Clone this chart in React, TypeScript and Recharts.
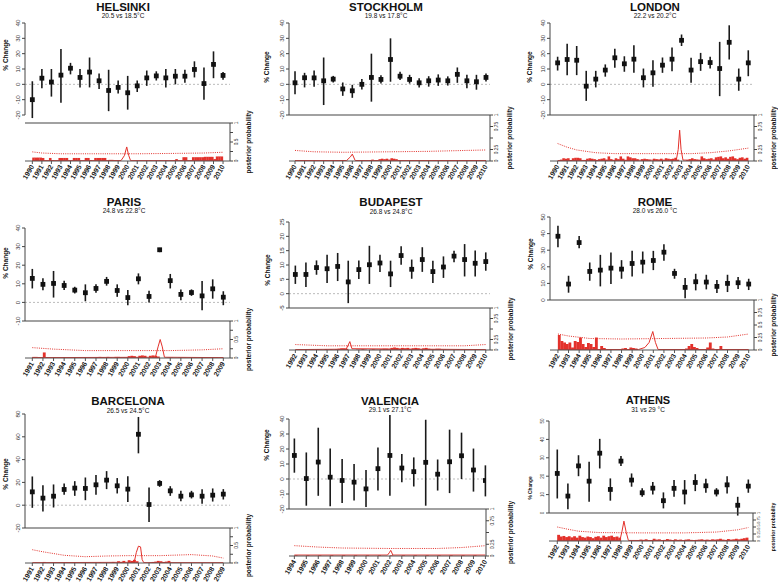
import React from 'react';
import { ComposedChart, Scatter, ErrorBar, Bar, Line, XAxis, YAxis, ReferenceLine } from 'recharts';

const RED = '#e3312b';
const FONT = '"Liberation Sans", Arial, Helvetica, sans-serif';

// year axes
const years90 = [1990, 1991, 1992, 1993, 1994, 1995, 1996, 1997, 1998, 1999, 2000, 2001, 2002, 2003, 2004, 2005, 2006, 2007, 2008, 2009, 2010];
const years91 = [1991, 1992, 1993, 1994, 1995, 1996, 1997, 1998, 1999, 2000, 2001, 2002, 2003, 2004, 2005, 2006, 2007, 2008, 2009];
const years92 = [1992, 1993, 1994, 1995, 1996, 1997, 1998, 1999, 2000, 2001, 2002, 2003, 2004, 2005, 2006, 2007, 2008, 2009, 2010];
const years94 = [1994, 1995, 1996, 1997, 1998, 1999, 2000, 2001, 2002, 2003, 2004, 2005, 2006, 2007, 2008, 2009, 2010];

// HELSINKI
const helsinkiMean = [-10, 4, 1.5, 6, 10.5, 4.5, 8, 2.3, -4, -2, -5.5, -1, 4.2, 5.5, 4.2, 5.3, 5.3, 9.7, 0.5, 13, 5.8];
const helsinkiLow = [-22, -2.5, -8, -12, 6.5, -2, -2, -3, -17.5, -6, -16.5, -5, -1, 2.5, -2, 0, 1, 4.5, -10, 4, 3];
const helsinkiHigh = [2, 10, 10, 23, 14, 10, 17.5, 7, 9.5, 2.5, 5.5, 2.5, 9, 8.5, 10, 10, 9.5, 15, 11, 21.5, 8];
const helsinkiPost = [
  [.09, .09, .09, .09], [.08, 0, 0, .08], [.02, 0, 0, .08], [.08, .08, .08, 0], [0, .08, .08, .08],
  [0, 0, .08, .08], [.02, 0, .08, .08], [.08, .08, .08, 0], [.03, .03, .02, .02], [.02, 0, 0, 0],
  [0, 0, 0, 0], [0, 0, 0, 0], [0, .01, 0, 0], [0, .01, 0, 0], [0, 0, 0, .01],
  [.05, 0, 0, .1], [.1, 0, 0, .1], [.1, .1, .1, .1], [.11, .11, .11, .11], [.05, .12, .12, .12],
];
const helsinkiPeak = [[1990, .01], [1999.3, .01], [1999.65, .14], [1999.9, .37], [2000.1, .15], [2000.3, .01], [2010, .01]];
const helsinkiThr = [[1990, .24], [1991, .21], [1993, .19], [1997, .19], [2001, .19], [2005, .2], [2008, .21], [2010, .23]];

// STOCKHOLM
const stockholmMean = [1, 4.3, 4.2, 2.3, 3.4, -3, -4.2, 0, 4.5, 3.2, 16.2, 5.3, 3.2, 1, 2.3, 2.8, 2.3, 6.5, 2.3, 1.7, 4.5];
const stockholmLow = [-6.5, -2, -1.5, -13.5, 1.2, -7.5, -8.8, -3.4, -11.3, 0.6, 1.7, 2.8, 0.5, -2, -1.5, -1, -0.8, 1, -2.5, -3.5, 1.8];
const stockholmHigh = [8.5, 7.5, 9, 17.5, 5.5, 1.2, -0.3, 3.4, 20, 6, 30, 8.2, 6.2, 4, 5.3, 6.5, 5.2, 11, 6.2, 6.2, 7];
const stockholmPost = [
  [.01, .02, .01, 0], [.01, 0, .01, 0], [.01, .01, 0, 0], [.01, 0, 0, 0], [.01, .02, .02, .01],
  [.02, .01, 0, 0], [0, 0, 0, 0], [0, 0, 0, .02], [.03, .01, .02, .04], [.05, .04, .05, .03],
  [.06, .05, .04, .02], [.02, .01, 0, .01], [.01, .01, 0, .01], [.01, .01, 0, .01], [.01, 0, .02, .01],
  [.01, .02, .01, .01], [.01, .01, .02, .01], [.01, .01, .02, .01], [.01, .01, .01, .01], [.01, .01, .01, .01],
];
const stockholmPeak = [[1990, .01], [1995.4, .01], [1995.8, .09], [1996, .15], [1996.3, .01], [2010, .01]];
const stockholmThr = [[1990, .23], [1992, .2], [1995, .19], [2000, .2], [2004, .21], [2008, .23], [2010, .24]];

// LONDON
const londonMean = [14, 16.2, 15.7, -1.2, 3.4, 9.3, 17.3, 13.4, 16.4, 4.3, 7.5, 12.5, 16.4, 28.7, 9.3, 14.8, 14.2, 10.3, 27.4, 3.4, 14];
const londonLow = [9, 6, 6, -10.8, -2, 5, 10.8, 8.2, 7.5, -2, -1.6, 7.5, 8.6, 25, 1, 8.8, 10.3, -7.7, 16.2, -4.2, 5.3];
const londonHigh = [18, 26.5, 25, 8.8, 8.8, 13, 23.2, 18.3, 25.5, 10.3, 15.7, 17.5, 24, 32.5, 17.3, 20.5, 18, 27.7, 38.5, 10.3, 22.2];
const londonPost = [
  [0, .03, .06, .05], [.06, .02, .06, .07], [.07, .06, 0, .02], [.05, .06, .05, .04], [.02, .04, .05, .06],
  [.03, .1, .04, .02], [.06, .04, .1, .05], [.02, .1, .08, .06], [.06, .04, 0, .04], [.05, .04, .03, 0],
  [.05, .04, .03, .05], [.02, .06, .05, .04], [.05, .07, .03, 0], [0, 0, .02, .04], [.06, .04, .03, .02],
  [.1, .06, .04, .05], [.06, .03, .08, .09], [.1, .06, .08, .05], [.09, .1, .06, .04], [.07, .08, .05, .07],
];
const londonPeak = [[1990, .01], [2002.45, .02], [2002.65, .25], [2002.8, .67], [2002.95, .25], [2003.15, .02], [2010, .01]];
const londonThr = [[1990, .38], [1991, .3], [1992, .24], [1994, .18], [1996, .16], [2000, .16], [2004, .16], [2006, .18], [2008, .22], [2010, .28]];

// PARIS
const parisMean = [12.9, 9.7, 10.2, 9.1, 6.6, 5.2, 7.5, 11.3, 6.4, 2.6, 12.7, 3.2, 28.3, 11.7, 4.3, 5.3, 3.5, 7.3, 2.8];
const parisLow = [7.5, 6.5, 2.6, 6.6, 4.8, 0.6, 5.2, 9, 3, -1.5, 9.7, 0, 27, 7.5, 1.2, 3.5, -4.2, 2, -1.5];
const parisHigh = [18, 13, 16.9, 11.7, 8.4, 9.7, 9.7, 13.7, 9.7, 6.6, 15.6, 6.2, 29.3, 15.3, 7, 7, 11.5, 12.4, 6];
const parisPost = [
  [.03, .03, .02, .01], [.15, .02, 0, 0], [.02, .01, 0, .01], [.02, .02, .01, 0], [.02, .02, .01, .01],
  [.01, .01, 0, 0], [.02, .03, .02, .01], [.03, .01, 0, .03], [.03, .02, .02, .02], [.05, .06, .05, .01],
  [.06, .07, .06, 0], [.06, .07, .06, .04], [0, 0, 0, .01], [.01, 0, 0, .01], [.01, .01, 0, 0],
  [.01, .02, .01, .01], [.02, .01, 0, .01], [.02, .02, .01, .02],
];
const parisPeak = [[1991, .01], [2002.6, .02], [2002.85, .3], [2003.05, .5], [2003.25, .3], [2003.45, .02], [2009, .01]];
const parisThr = [[1991, .28], [1993, .24], [1996, .2], [2000, .2], [2004, .2], [2007, .22], [2009, .25]];

// BUDAPEST
const budapestMean = [6.7, 6.7, 9.1, 8.7, 9.5, 4.1, 8.4, 10.1, 10.7, 6.9, 13.3, 8.5, 11.9, 7.7, 9.3, 13.1, 11.9, 10.6, 11.2];
const budapestLow = [3.4, 2.3, 6.6, 3.7, 4.4, -3.3, 5.1, 3.4, 7.6, 2.3, 10.1, 5.2, 7.6, 3.7, 5.5, 11, 6, 6, 8];
const budapestHigh = [9.8, 10.9, 11.6, 13.6, 14.2, 11.5, 11.6, 16.7, 13.6, 11.5, 16.5, 11.9, 16.2, 11.5, 13, 15, 17.3, 15.1, 14.4];
const budapestPost = [
  [.01, .02, .01, 0], [.01, .02, .02, .01], [.02, .01, 0, .02], [.01, .02, .01, .02], [.03, .04, .04, .03],
  [0, 0, 0, .01], [.01, .02, .01, 0], [.01, .02, .01, .01], [.02, .03, .03, .02], [.05, .06, .05, .03],
  [.05, .04, .05, .02], [.04, .05, .04, .02], [.04, .05, .03, .02], [.02, .03, .03, .02], [.02, .01, .01, .01],
  [.01, .02, .01, .01], [.01, .01, .01, .01], [.01, .01, .01, .01],
];
const budapestPeak = [[1992, .01], [1996.8, .02], [1997, .12], [1997.15, .2], [1997.35, .03], [2010, .01]];
const budapestThr = [[1992, .13], [1995, .1], [2000, .1], [2005, .1], [2008, .1], [2010, .13]];

// ROME
const romeMean = [38.4, 9.6, 34.6, 17.2, 18, 19.2, 18.6, 22, 22.8, 23.8, 28.8, 16, 7.6, 11, 10.8, 8.2, 10, 10.4, 9.6];
const romeLow = [31.8, 4.4, 31.2, 11.6, 8.2, 9.6, 12.8, 14.2, 16, 18, 23.6, 12.8, 1, 5.8, 6.4, 4.2, 4.8, 6.6, 6];
const romeHigh = [44.8, 14.6, 38.6, 22.6, 27.2, 28.6, 24, 29.6, 29.2, 29.6, 33.6, 18.8, 13.2, 15.8, 15.2, 12, 15.2, 13.8, 12.8];
const romePost = [
  [.3, .18, .15, .12], [.15, .05, .18, .16], [.25, .12, .06, .14], [.12, .06, .25, .02], [.08, .04, 0, 0],
  [0, 0, 0, 0], [.03, .04, .02, .05], [.04, .03, 0, 0], [0, 0, 0, 0], [0, 0, 0, 0],
  [0, 0, 0, 0], [0, 0, 0, .02], [.03, .08, .12, .06], [.04, 0, 0, 0], [.05, .15, .03, 0],
  [0, .08, .02, 0], [0, 0, 0, 0], [0, 0, 0, 0],
];
const romePeak = [[1992, .01], [1999.6, .01], [2000.2, .05], [2000.6, .15], [2000.95, .37], [2001.2, .15], [2001.45, .01], [2010, .01]];
const romeThr = [[1992, .32], [1993, .28], [1995, .23], [1998, .22], [2002, .23], [2006, .24], [2008, .26], [2010, .32]];

// BARCELONA
const barcelonaMean = [11.7, 6.2, 7.9, 13.8, 15, 14.7, 17.9, 22, 17, 14.1, 62.2, 0.6, 19.1, 12.6, 7.9, 9.1, 7.9, 8.8, 9.7];
const barcelonaLow = [-2.3, -5.6, -2, 9.1, 8.2, 4.4, 9.1, 14.1, 10.3, 2.9, 45.5, -14.7, 16.1, 8.2, 3.5, 5.9, 1.2, 3.2, 5];
const barcelonaHigh = [25.2, 17.6, 18.2, 19.1, 21.1, 24.3, 26.4, 29.9, 23.8, 25.5, 77.4, 15.5, 22, 16.7, 12.6, 12.6, 14.1, 14.7, 14.1];
const barcelonaPost = [
  [0, .01, 0, 0], [.03, 0, 0, 0], [0, 0, 0, 0], [.02, .02, 0, 0], [0, 0, 0, 0],
  [.02, .02, 0, 0], [0, .02, 0, 0], [0, .01, .03, 0], [.05, .03, .06, 0], [.08, .06, .09, .05],
  [0, 0, 0, 0], [.01, .03, .04, .06], [.05, .03, .04, .06], [0, 0, 0, 0], [0, 0, 0, 0],
  [0, 0, 0, 0], [0, 0, 0, 0], [0, 0, 0, 0],
];
const barcelonaPeak = [[1991, .01], [2000.6, .02], [2000.8, .3], [2001, .48], [2001.2, .46], [2001.35, .1], [2001.5, .01], [2009, .01]];
const barcelonaThr = [[1991, .38], [1992, .32], [1994, .22], [1996, .18], [1998, .2], [2000, .21], [2003, .21], [2006, .24], [2008, .2], [2009, .14]];

// VALENCIA
const valenciaMean = [15.7, 0.3, 11.3, 1.2, -1, -2.1, -6.6, 6.9, 15.7, 7.3, 4.9, 11.1, 3.2, 11.5, 15.5, 6, -1];
const valenciaLow = [4.2, -17.8, -11.2, -18.2, -16, -14.3, -18.7, -7.7, -11.2, -2.1, -5, -17.8, -7.7, -9.4, 0, -8.4, -11.6];
const valenciaHigh = [27, 17.7, 34.2, 20.3, 13.3, 10, 6, 21, 42.7, 16.6, 14.4, 39.5, 13, 32.9, 30.9, 20.3, 9.1];
const valenciaPost = [
  [.015, 0, 0, 0], [.015, 0, 0, 0], [.015, 0, 0, 0], [.015, 0, 0, 0], [.015, 0, 0, 0],
  [.015, 0, 0, 0], [.015, 0, 0, 0], [.015, 0, 0, 0], [.015, 0, 0, 0], [.015, 0, 0, 0],
  [.015, 0, 0, 0], [.015, 0, 0, 0], [.015, 0, 0, 0], [.015, 0, 0, 0], [.015, 0, 0, 0],
  [.015, 0, 0, 0],
];
const valenciaPeak = [[1994, .02], [2001.8, .02], [2001.98, .08], [2002.07, .12], [2002.25, .02], [2010, .02]];
const valenciaThr = [[1994, .22], [1996, .19], [1998, .17], [2002, .16], [2006, .16], [2008, .18], [2010, .22]];

// ATHENS
const athensMean = [21.5, 9.2, 25.6, 17.3, 32.5, 12.8, 28.2, 17.9, 11, 13.5, 6.7, 13.4, 11.4, 16.6, 14.8, 11.4, 15.3, 4.2, 14.6];
const athensLow = [7.9, 2, 20, 6.1, 24.2, 6.7, 25.6, 14.3, 8.8, 10, 2.5, 8.8, 4.7, 11.9, 11, 9, 10.6, -1.4, 11];
const athensHigh = [34.5, 16.1, 31.4, 27.8, 40.3, 18.8, 31, 21.5, 13.4, 16.8, 11.2, 17.9, 17.9, 21.1, 18.6, 13.5, 20, 8.8, 18.2];
const athensPost = [
  [.22, .16, .18, .14], [.17, .13, .17, .12], [.19, .14, .12, .16], [.14, .1, .15, .17], [.12, .19, .14, .17],
  [.19, .14, .16, .12], [0, 0, 0, 0], [0, 0, .03, .05], [.04, .06, .03, .02], [.08, .05, .06, .02],
  [.04, .07, .05, .03], [.06, .04, .05, .02], [.05, .06, .04, .03], [.04, .05, .06, .04], [.05, .04, .06, .05],
  [.06, .08, .05, .04], [.07, .05, .06, .08], [.06, .08, .1, .12],
];
const athensPeak = [[1992, .01], [1997.9, .02], [1998.1, .35], [1998.28, .71], [1998.5, .3], [1998.7, .02], [2010, .01]];
const athensThr = [[1992, .5], [1993, .42], [1994, .35], [1996, .3], [2000, .29], [2004, .29], [2007, .32], [2009, .4], [2010, .48]];

const tickSets = {
  a: [-20, -10, 0, 10, 20, 30, 40],
  paris: [-10, 0, 10, 20, 30, 40],
  budapest: [-5, 0, 5, 10, 15, 20, 25],
  fifty: [0, 10, 20, 30, 40, 50],
  barcelona: [-20, 0, 20, 40, 60, 80],
};

const cities = [
  { name: 'HELSINKI', sub: '20.5 vs 18.5°C', years: years90, mean: helsinkiMean, low: helsinkiLow, high: helsinkiHigh, post: helsinkiPost, peak: helsinkiPeak, thr: helsinkiThr, yTicks: tickSets.a, rl: [0, .5, 1],
    box: { l: 25, r: 230, ut: 23, ub: 115, lt: 123, lb: 161, pa: .77, pb: .73, tx: 123, ty: 7, sy: 15, cx: 5, cy: 55, px: 248 } },
  { name: 'STOCKHOLM', sub: '19.8 vs 17.8°C', years: years90, mean: stockholmMean, low: stockholmLow, high: stockholmHigh, post: stockholmPost, peak: stockholmPeak, thr: stockholmThr, yTicks: tickSets.a, rl: [0, .25, .75, 1],
    box: { l: 289, r: 490, ut: 23, ub: 115, lt: 115, lb: 161, pa: .63, pb: .42, tx: 386, ty: 7, sy: 15, cx: 266, cy: 67, px: 509 } },
  { name: 'LONDON', sub: '22.2 vs 20.2°C', years: years90, mean: londonMean, low: londonLow, high: londonHigh, post: londonPost, peak: londonPeak, thr: londonThr, yTicks: tickSets.a, rl: [0, .25, .75, 1],
    box: { l: 550, r: 754, ut: 23, ub: 115, lt: 115, lb: 161, pa: .8, pb: .6, tx: 655, ty: 7, sy: 15, cx: 529, cy: 67, px: 773 } },
  { name: 'PARIS', sub: '24.8 vs 22.8°C', years: years91, mean: parisMean, low: parisLow, high: parisHigh, post: parisPost, peak: parisPeak, thr: parisThr, yTicks: tickSets.paris, rl: [0, .5, 1],
    box: { l: 25, r: 230, ut: 228, ub: 321, lt: 321, lb: 358, pa: .69, pb: .63, tx: 124, ty: 202, sy: 210, cx: 5, cy: 263, px: 248 } },
  { name: 'BUDAPEST', sub: '26.8 vs 24.8°C', years: years92, mean: budapestMean, low: budapestLow, high: budapestHigh, post: budapestPost, peak: budapestPeak, thr: budapestThr, yTicks: tickSets.budapest, rl: [0, .25, .75, 1],
    box: { l: 289, r: 490, ut: 222, ub: 308, lt: 308, lb: 350, pa: .6, pb: .4, tx: 391, ty: 202, sy: 211, cx: 267, cy: 270, px: 510 } },
  { name: 'ROME', sub: '28.0 vs 26.0 °C', years: years92, mean: romeMean, low: romeLow, high: romeHigh, post: romePost, peak: romePeak, thr: romeThr, yTicks: tickSets.fifty, rl: [0, .25, .5, .75, 1],
    box: { l: 550, r: 754, ut: 217, ub: 300, lt: 300, lb: 350, pa: .75, pb: .5, tx: 655, ty: 202, sy: 210, cx: 530, cy: 254, px: 773 } },
  { name: 'BARCELONA', sub: '26.5 vs 24.5°C', years: years91, mean: barcelonaMean, low: barcelonaLow, high: barcelonaHigh, post: barcelonaPost, peak: barcelonaPeak, thr: barcelonaThr, yTicks: tickSets.barcelona, rl: [0, .5, 1],
    box: { l: 25, r: 230, ut: 414, ub: 528, lt: 528, lb: 563, pa: .69, pb: .63, tx: 128, ty: 401, sy: 410, cx: 5, cy: 474, px: 248 } },
  { name: 'VALENCIA', sub: '29.1 vs 27.1°C', years: years94, mean: valenciaMean, low: valenciaLow, high: valenciaHigh, post: valenciaPost, peak: valenciaPeak, thr: valenciaThr, yTicks: tickSets.a, rl: [0, .25, .75, 1],
    box: { l: 289, r: 486, ut: 419, ub: 509, lt: 509, lb: 556, pa: .45, pb: .05, tx: 390, ty: 401, sy: 409, cx: 266, cy: 445, px: 510 } },
  { name: 'ATHENS', sub: '31 vs 29 °C', years: years92, mean: athensMean, low: athensLow, high: athensHigh, post: athensPost, peak: athensPeak, thr: athensThr, yTicks: tickSets.fifty, rl: [0, .25, .5, .75, 1], small: true,
    box: { l: 549, r: 753, ut: 421, ub: 513, lt: 513, lb: 541, pa: .78, pb: .44, tx: 648, ty: 400, sy: 409.5, cx: 530, cy: 488, px: 773 } },
];

const Square = (p: any) =>
  p.cx == null ? <g /> : <rect x={p.cx - 2.4} y={p.cy - 2.4} width={4.8} height={4.8} fill="#111" />;

// histogram bar: keep the library's x centre and height, draw a full quarter-year width
const quarterBar = (w: number) => (p: any) =>
  !p.height || p.height <= 0 ? <g /> : <rect x={p.x + p.width / 2 - w / 2} y={p.y} width={w} height={p.height} fill={RED} />;

const LeftTick = (p: any) => {
  const { x, y, payload, fs } = p;
  return (
    <text x={x} y={y} transform={`rotate(-90 ${x} ${y})`} textAnchor="middle" fontSize={fs} fill="#333" fontFamily={FONT}>
      {payload.value}
    </text>
  );
};

const RightTick = (p: any) => {
  const { x, y, payload, fs, labels } = p;
  if (!labels.includes(payload.value)) return <g />;
  const bx = x + fs * 0.8;
  return (
    <text x={bx} y={y} transform={`rotate(-90 ${bx} ${y})`} textAnchor="middle" fontSize={fs} fill="#333" fontFamily={FONT}>
      {payload.value}
    </text>
  );
};

const YearTick = (p: any) => {
  const { x, y, payload } = p;
  const ax = x + 2, ay = y + 1.5;
  return (
    <text x={ax} y={ay} transform={`rotate(-60 ${ax} ${ay})`} textAnchor="end" fontSize={7} fontWeight="bold" fill="#222" fontFamily={FONT}>
      {payload.value}
    </text>
  );
};

function Panel({ c }: { c: any }) {
  const b = c.box;
  const first = c.years[0];
  const last = c.years[c.years.length - 1];
  const d0 = first - b.pa, d1 = last + b.pb;
  const plotW = b.r - b.l;
  const upH = b.ub - b.ut;
  const lowH = b.lb - b.lt;
  const fs = c.small ? 4.5 : 6.2;
  const YW = 22, LM = 14, RW = 14;

  const points = c.years.map((x: number, i: number) => ({
    x, y: c.mean[i], err: [c.mean[i] - c.low[i], c.high[i] - c.mean[i]],
  }));
  const bars = c.post.flatMap((q: number[], yi: number) =>
    q.map((v, qi) => ({ x: first + yi + qi * 0.25 + 0.125, v })));
  const peak = c.peak.map(([x, p]: number[]) => ({ x, p }));
  const thr = c.thr.map(([x, p]: number[]) => ({ x, p }));
  const quarterPx = plotW / (d1 - d0) / 4;
  const yt = c.yTicks;

  return (
    <>
      <div style={{ position: 'absolute', left: b.l - YW, top: b.ut - 5 }}>
        <ComposedChart width={YW + plotW + 2} height={upH + 10} data={points} margin={{ top: 5, right: 2, bottom: 5, left: 0 }}>
          <XAxis dataKey="x" type="number" domain={[d0, d1]} hide allowDataOverflow />
          <YAxis type="number" domain={[yt[0], yt[yt.length - 1]]} ticks={yt} interval={0} allowDataOverflow width={YW}
            tickSize={3} tickMargin={2} tick={<LeftTick fs={fs} />} axisLine={{ stroke: '#444' }} tickLine={{ stroke: '#444' }} />
          {yt[0] < 0 && <ReferenceLine y={0} stroke="#bbb" strokeDasharray="2 2" />}
          <Scatter dataKey="y" shape={Square} isAnimationActive={false}>
            <ErrorBar dataKey="err" direction="y" width={0} stroke="#1a1a1a" strokeWidth={1.6} isAnimationActive={false} />
          </Scatter>
        </ComposedChart>
      </div>
      <div style={{ position: 'absolute', left: b.l - LM, top: b.lt - 5 }}>
        <ComposedChart width={LM + plotW + RW} height={5 + lowH + 32} data={bars} margin={{ top: 5, right: 0, bottom: 0, left: LM }}>
          <XAxis dataKey="x" type="number" domain={[d0, d1]} allowDataOverflow ticks={c.years} interval={0} height={32}
            tickSize={3} tickMargin={1} tick={<YearTick />} axisLine={{ stroke: '#555' }} tickLine={{ stroke: '#555' }} />
          <YAxis orientation="right" type="number" domain={[0, 1]} ticks={[0, .25, .5, .75, 1]} interval={0} allowDataOverflow width={RW}
            tickSize={3} tickMargin={1} tick={<RightTick fs={c.small ? 3.8 : 4.8} labels={c.rl} />}
            axisLine={{ stroke: '#444' }} tickLine={{ stroke: '#444' }} />
          <ReferenceLine y={1} stroke="#444" strokeWidth={1.2} />
          <Bar dataKey="v" fill={RED} shape={quarterBar(quarterPx + 0.2)} isAnimationActive={false} />
          <Line data={thr} dataKey="p" type="linear" stroke={RED} strokeWidth={1} strokeDasharray="1 1.2" dot={false} isAnimationActive={false} />
          <Line data={peak} dataKey="p" type="linear" stroke={RED} strokeWidth={1} dot={false} isAnimationActive={false} />
        </ComposedChart>
      </div>
    </>
  );
}

function Labels({ c }: { c: any }) {
  const b = c.box;
  const py = (b.lt + b.lb) / 2;
  const small = !!c.small;
  return (
    <g fontFamily={FONT} fill="#111">
      <text x={b.tx} y={b.ty} textAnchor="middle" dominantBaseline="central" fontSize={small ? 11 : 11.5} fontWeight="bold">{c.name}</text>
      <text x={b.tx} y={b.sy} textAnchor="middle" dominantBaseline="central" fontSize={6.5}>{c.sub}</text>
      <text x={b.cx} y={b.cy} transform={`rotate(-90 ${b.cx} ${b.cy})`} textAnchor="middle" dominantBaseline="central"
        fontSize={small ? 4.8 : 6.5} fontWeight="bold">% Change</text>
      <text x={b.px} y={py} transform={`rotate(-90 ${b.px} ${py})`} textAnchor="middle" dominantBaseline="central"
        fontSize={small ? 5 : 6.5} fontWeight="bold">posterior probability</text>
    </g>
  );
}

export default function App() {
  return (
    <div style={{ position: 'absolute', left: 0, top: 0, width: 778, height: 586, background: '#fff', overflow: 'hidden' }}>
      {cities.map((c) => <Panel key={c.name} c={c} />)}
      <svg width={778} height={586} style={{ position: 'absolute', left: 0, top: 0, pointerEvents: 'none' }}>
        {cities.map((c) => <Labels key={c.name} c={c} />)}
      </svg>
    </div>
  );
}
